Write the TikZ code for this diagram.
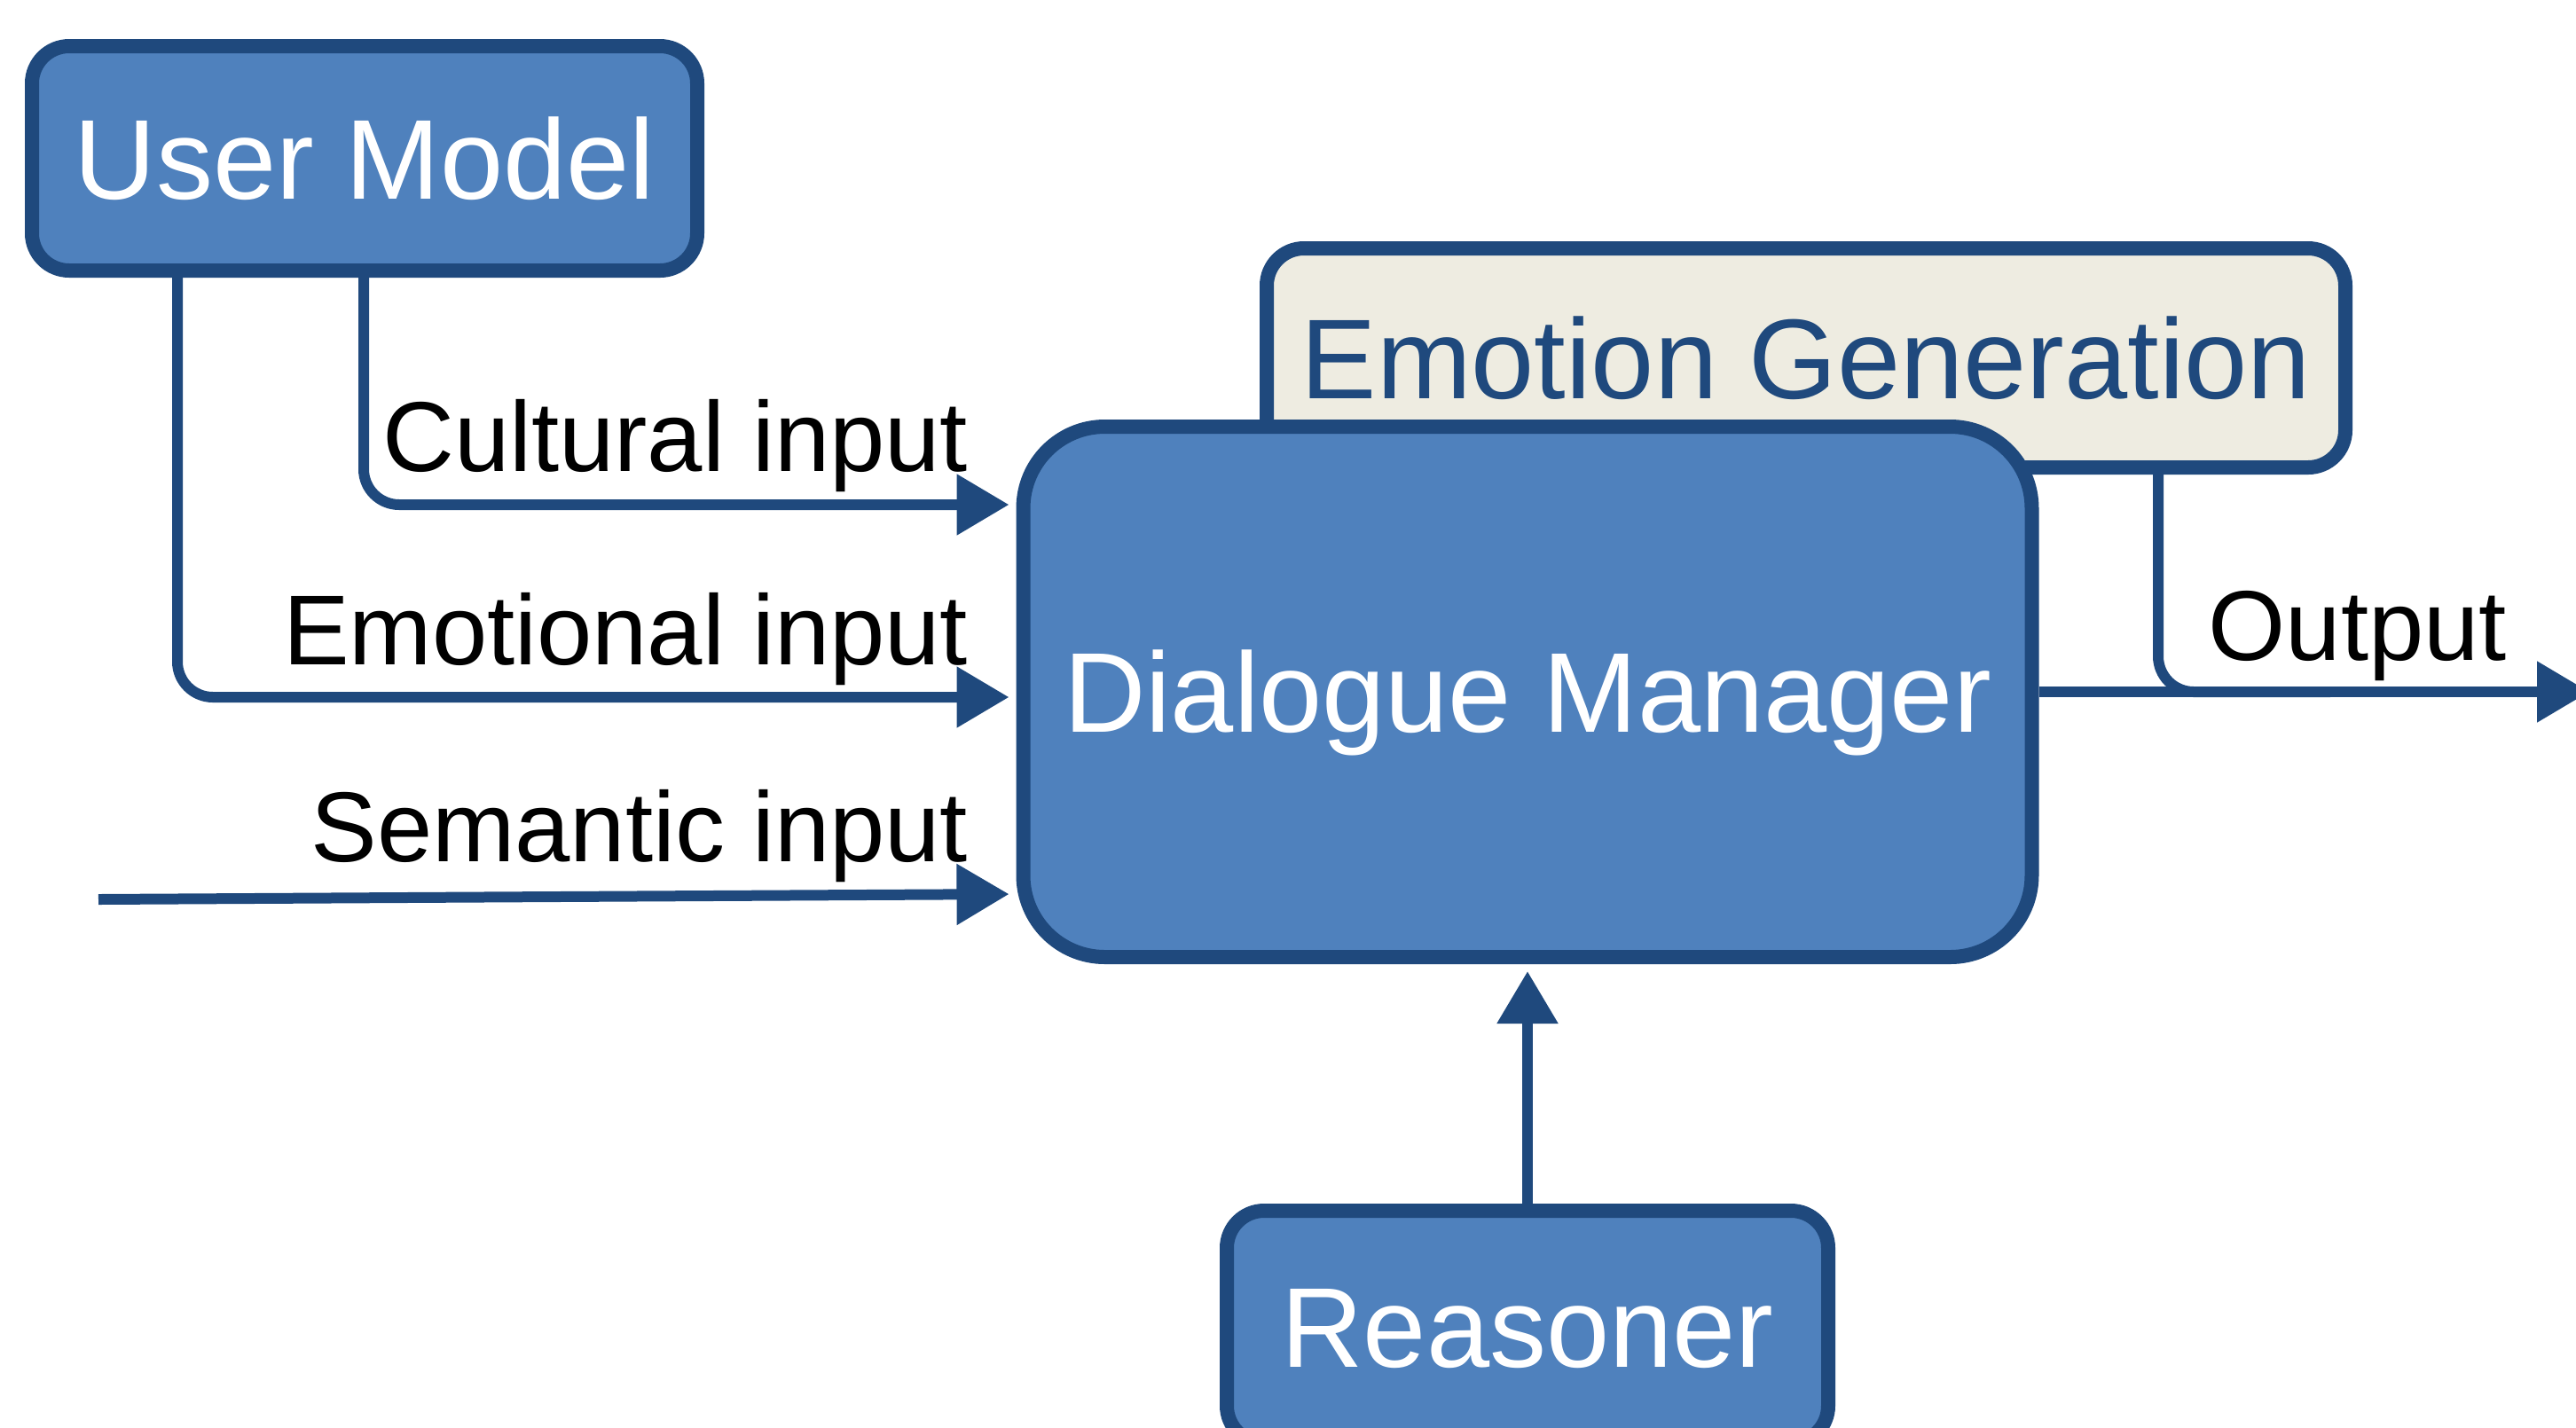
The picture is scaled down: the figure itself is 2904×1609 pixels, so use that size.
\documentclass[tikz,border=0pt]{standalone}
\usepackage{fontspec}
\setmainfont{Liberation Sans}
\usetikzlibrary{arrows.meta,calc}
\definecolor{boxblue}{HTML}{4F81BD}
\definecolor{edgeblue}{HTML}{1F497D}
\definecolor{tanbg}{HTML}{EEECE1}
\begin{document}
\begin{tikzpicture}[x=0.25pt,y=-0.25pt,
  box/.style={draw=edgeblue, line width=4pt, fill=boxblue, text=white,
    rounded corners=10.5pt, inner sep=0pt,
    font=\fontsize{32}{38}\selectfont, text height=22.9pt, text depth=0pt},
  wire/.style={draw=edgeblue, line width=3pt},
  conn/.style={wire, -{Triangle[length=14.75pt,width=16.5pt]}, shorten >=2pt},
  lbl/.style={inner sep=0pt, font=\fontsize{28}{34}\selectfont, anchor=base east}]
\useasboundingbox (0,0) rectangle (2904,1609);
\fill[white] (0,0) rectangle (2904,1609);

% boxes
\node[box, fill=tanbg, text=edgeblue, minimum width=304pt, minimum height=61.75pt] (eg) at (2036,403.5) {Emotion Generation};
\node[box, rounded corners=23pt, minimum width=284.25pt, minimum height=149.5pt] (dm) at (1722,780) {Dialogue Manager};
\node[box, minimum width=187.5pt, minimum height=63.25pt] (um) at (411,178.5) {User Model};
\node[box, minimum width=169.5pt, minimum height=65.5pt] (rs) at (1722,1496) {Reasoner};

% connectors
\draw[conn, rounded corners=10pt] ($(um.south)+(-1,0)$) |- ($(dm.west)+(0,-211)$);
\draw[conn, rounded corners=10pt] ($(um.south)+(-211,0)$) |- ($(dm.west)+(0,6)$);
\coordinate (semstart) at (111,1014);
\draw[conn] (semstart) -- ($(dm.west)+(0,228)$);
\draw[conn] (rs.north) -- (dm.south);
\coordinate (outend) at (2927,780);
\draw[wire, rounded corners=10pt] ($(eg.south)+(397,0)$) |- ($(outend)+(-300,0)$);
\draw[conn] (dm.east) -- (outend);

% labels
\node[lbl] (cult) at (1092,531) {Cultural input};
\node[lbl] (emo) at (1092,749) {Emotional input};
\node[lbl] (sem) at (1092,971) {Semantic input};
\node[lbl, anchor=base west] (outl) at (2489,744) {Output};
\end{tikzpicture}
\end{document}
